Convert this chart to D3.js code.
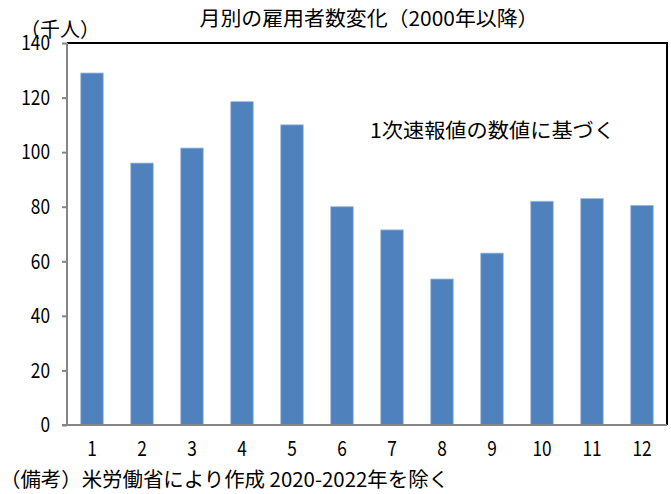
<!DOCTYPE html>
<html>
<head>
<meta charset="utf-8">
<script src="https://cdn.jsdelivr.net/npm/d3@7"></script>
<style>
  body { margin: 0; background: #fff; }
  svg text { font-family: "Noto Sans CJK JP", sans-serif; fill: #000; }
</style>
</head>
<body>
<svg class="chart" width="671" height="494"></svg>
<script>
var w = 671;
var h = 494;
var margin = { top: 43, right: 4, bottom: 69, left: 67 };

// 月 / 雇用者数変化（千人）
var months = ["1", "2", "3", "4", "5", "6", "7", "8", "9", "10", "11", "12"];
var jobs = [129, 96, 101.5, 118.5, 110, 80, 71.5, 53.5, 63, 82, 83, 80.5];
var yTicks = [0, 20, 40, 60, 80, 100, 120, 140];

var titleText = "月別の雇用者数変化（2000年以降）";
var unitText = "（千人）";
var noteText = "1次速報値の数値に基づく";
var sourceText = "（備考）米労働省により作成 2020-2022年を除く";

var canvas = d3.select(".chart");

var xScale = d3
  .scaleBand()
  .domain(months)
  .range([margin.left, w - margin.right])
  .paddingInner(0.55)
  .paddingOuter(0.275);

var yScale = d3
  .scaleLinear()
  .domain([0, 140])
  .range([h - margin.bottom, margin.top]);

// 枠（上と右は黒）
canvas
  .append("path")
  .attr(
    "d",
    "M" + margin.left + "," + margin.top +
    "H" + (w - margin.right) +
    "V" + (h - margin.bottom)
  )
  .attr("fill", "none")
  .attr("stroke", "#000")
  .attr("stroke-width", 2);

// 棒
canvas
  .selectAll("rect.bar")
  .data(jobs)
  .enter()
  .append("rect")
  .attr("class", "bar")
  .attr("x", (d, i) => xScale(months[i]))
  .attr("y", (d) => yScale(d))
  .attr("width", xScale.bandwidth())
  .attr("height", (d) => yScale(0) - yScale(d))
  .attr("fill", "#4f81bd")
  .attr("stroke", "#9dbbe0")
  .attr("stroke-width", 0.8);

var yAxis = d3.axisLeft(yScale).tickValues(yTicks).tickSize(5).tickPadding(12);
var xAxis = d3.axisBottom(xScale).tickSize(0).tickPadding(16);

var yG = canvas
  .append("g")
  .attr("class", "yAxis")
  .attr("transform", "translate(" + margin.left + ",0)")
  .call(yAxis);

var xG = canvas
  .append("g")
  .attr("class", "xAxis")
  .attr("transform", "translate(0," + (h - margin.bottom) + ")")
  .call(xAxis);

xG.select(".domain")
  .attr("d", "M" + (margin.left - 5) + ",0H" + (w - margin.right));

[yG, xG].forEach(function (g) {
  g.selectAll(".domain, .tick line").attr("stroke", "#868686").attr("stroke-width", 2);
  g.selectAll("text")
    .attr("font-family", "Noto Sans CJK JP")
    .attr("font-size", 21)
    .attr("fill", "#000")
    .attr("textLength", function () { return this.textContent.length * 9.6; })
    .attr("lengthAdjust", "spacingAndGlyphs");
});
// 左軸は上の枠まで
yG.select(".domain").attr("d", "M0," + yScale(140) + "V" + yScale(0));

// 文字
canvas
  .append("text")
  .attr("x", 369)
  .attr("y", 26)
  .attr("text-anchor", "middle")
  .attr("font-size", 20)
  .attr("textLength", 339)
  .attr("lengthAdjust", "spacingAndGlyphs")
  .text(titleText);

canvas
  .append("text")
  .attr("x", 20)
  .attr("y", 37)
  .attr("font-size", 20)
  .text(unitText);

canvas
  .append("text")
  .attr("x", 370)
  .attr("y", 138)
  .attr("font-size", 20)
  .attr("textLength", 245)
  .attr("lengthAdjust", "spacingAndGlyphs")
  .text(noteText);

canvas
  .append("text")
  .attr("x", 0)
  .attr("y", 487)
  .attr("font-size", 20)
  .attr("textLength", 449)
  .attr("lengthAdjust", "spacingAndGlyphs")
  .text(sourceText);
</script>
</body>
</html>
